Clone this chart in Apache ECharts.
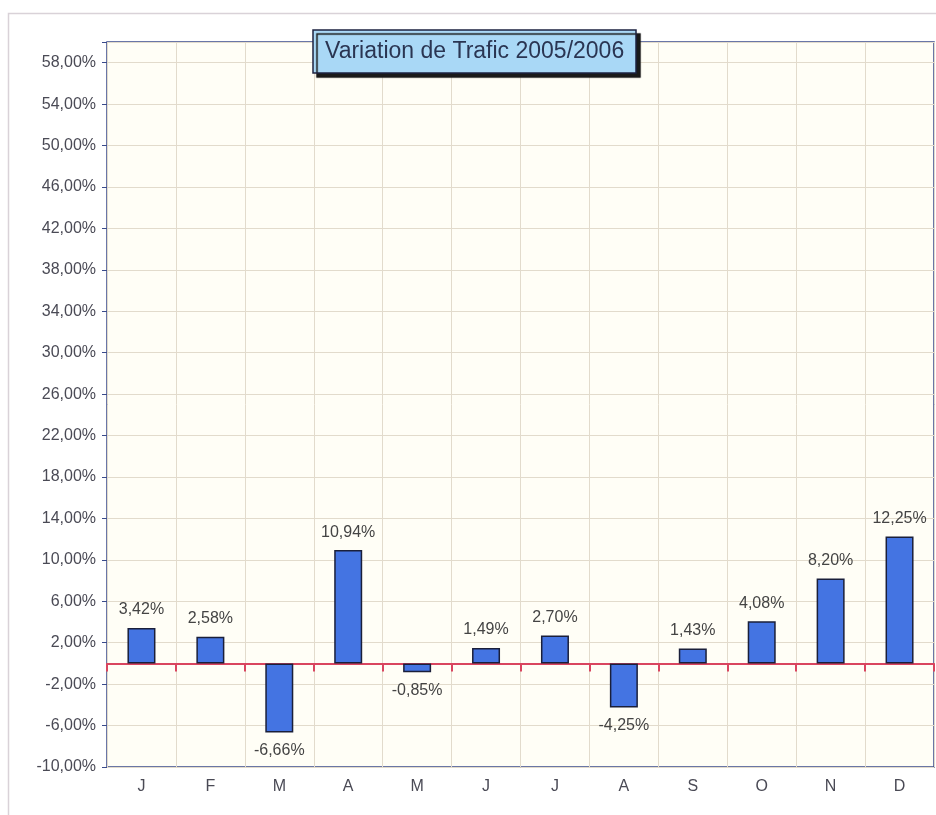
<!DOCTYPE html>
<html>
<head>
<meta charset="utf-8">
<script src="https://cdn.jsdelivr.net/npm/echarts@6/dist/echarts.min.js"></script>
<style>
html,body{margin:0;padding:0;background:#fff;}
#chart{width:936px;height:815px;}
</style>
</head>
<body>
<div id="chart"></div>
<script>
var titleText = 'Variation de Trafic 2005/2006';
var categories = ['J','F','M','A','M','J','J','A','S','O','N','D'];
var values = [3.42, 2.58, -6.66, 10.94, -0.85, 1.49, 2.70, -4.25, 1.43, 4.08, 8.20, 12.25];
var yMin = -10, yMax = 60, yStep = 4;

function fmt(v){ return v.toFixed(2).replace('.', ',') + '%'; }

var chart = echarts.init(document.getElementById('chart'));
var font = '"Liberation Sans", Arial, sans-serif';

chart.setOption({
  animation: false,
  backgroundColor: '#ffffff',
  graphic: [{
    type: 'rect', z: -10,
    shape: {x: 8.5, y: 13.5, width: 940, height: 820},
    style: {fill: 'none', stroke: '#d9d2d8', lineWidth: 1.5}
  }],
  title: {
    text: titleText,
    left: 313, top: 30,
    padding: [10, 12, 10, 12],
    backgroundColor: '#a9d8f6',
    borderColor: '#1c2240',
    borderWidth: 1.5,
    shadowColor: '#1a1a1a',
    shadowBlur: 1,
    shadowOffsetX: 4,
    shadowOffsetY: 4,
    textStyle: {fontFamily: font, fontSize: 23, fontWeight: 'normal', color: '#2a3552'}
  },
  grid: {
    left: 107, right: 2, top: 42, bottom: 48,
    show: true,
    backgroundColor: '#fffef6',
    borderColor: '#3a4a8a',
    borderWidth: 1.5
  },
  xAxis: [{
    type: 'category',
    data: categories,
    position: 'bottom',
    axisLine: {show: false, onZero: false},
    axisTick: {show: false},
    axisLabel: {fontFamily: font, fontSize: 16, color: '#4a4a55', margin: 12},
    splitLine: {show: true, lineStyle: {color: '#e2dbcc', width: 1}}
  }, {
    type: 'category',
    data: categories,
    position: 'top',
    axisLine: {show: true, onZero: true, lineStyle: {color: '#d9455f', width: 2}},
    axisTick: {show: true, inside: true, length: 8, lineStyle: {color: '#d9455f', width: 2}},
    axisLabel: {show: false},
    splitLine: {show: false}
  }],
  yAxis: {
    type: 'value',
    min: yMin, max: yMax, interval: yStep,
    axisLine: {show: false},
    axisTick: {show: true, length: 5, lineStyle: {color: '#3a4a8a'}},
    axisLabel: {
      fontFamily: font, fontSize: 16, color: '#4a4a55', margin: 11,
      formatter: function(v){ return v === yMax ? '' : fmt(v); }
    },
    splitLine: {show: true, lineStyle: {color: '#e2dbcc', width: 1}}
  },
  series: [{
    type: 'bar',
    xAxisIndex: 0,
    barWidth: 28,
    itemStyle: {color: '#4474e2', borderColor: '#1a1f3a', borderWidth: 1.5},
    label: {
      show: true,
      fontFamily: font, fontSize: 16, color: '#444',
      distance: 10,
      formatter: function(p){ return fmt(p.value); }
    },
    data: values.map(function(v){
      return {value: v, label: {position: v < 0 ? 'bottom' : 'top'}};
    })
  }]
});
</script>
</body>
</html>
